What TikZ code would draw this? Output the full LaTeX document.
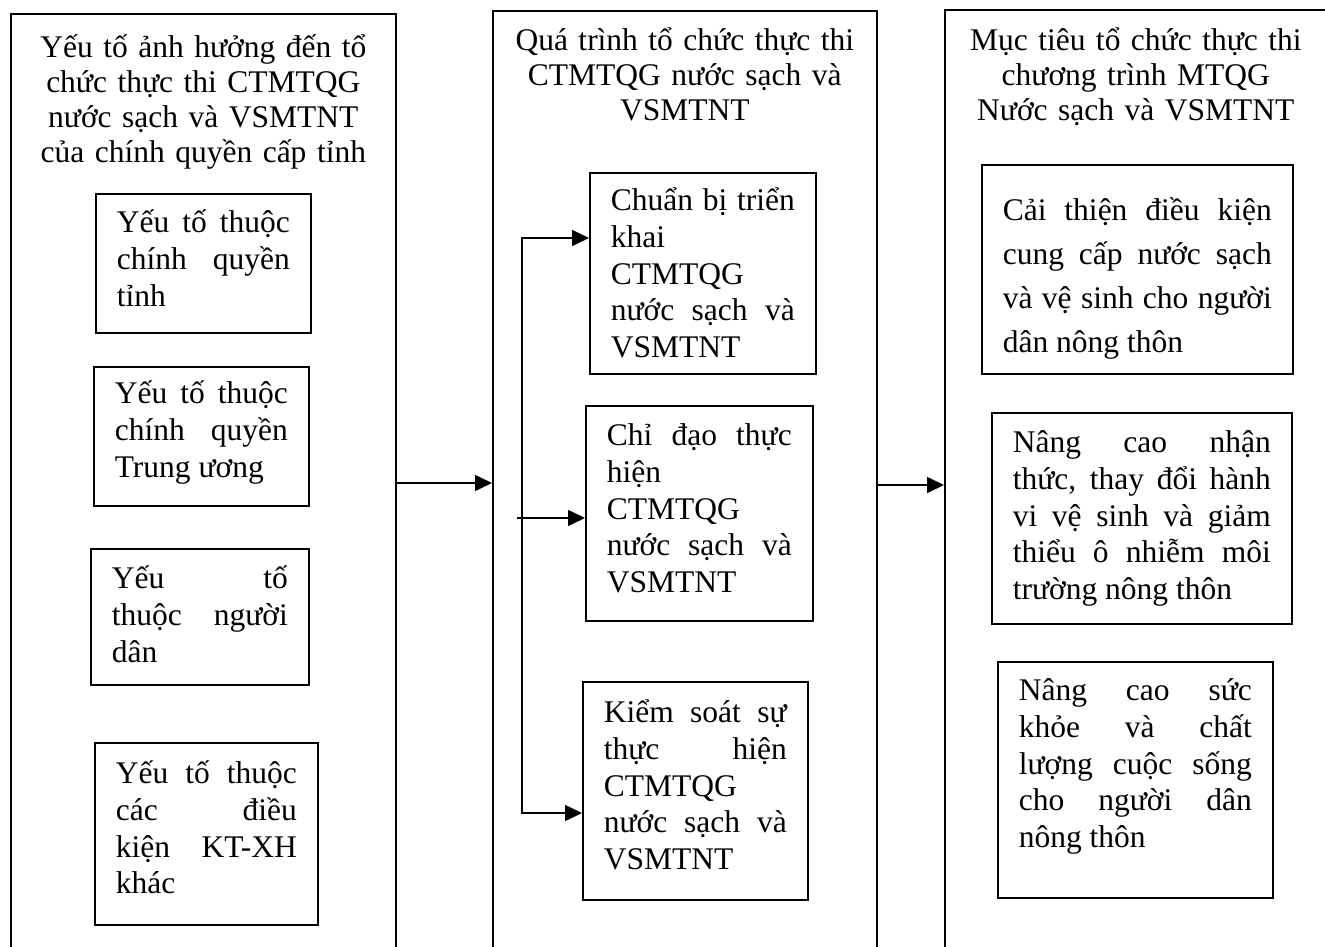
\documentclass[tikz,border=0pt]{standalone}
\usepackage{fontspec}
\setmainfont{Liberation Serif}
\usetikzlibrary{arrows.meta,positioning,calc}
\tolerance=10000
\hyphenpenalty=10000

\begin{document}
\begin{tikzpicture}[
  x=1pt, y=-1pt,
  every node/.style={font=\fontsize{31.5}{36.7}\selectfont},
  col/.style={draw, line width=1.6pt, anchor=north west, align=center, inner xsep=20pt, inner ysep=0pt, text depth=900pt, font=\fontsize{31.5}{35}\selectfont},
  box/.style={draw, line width=1.6pt, anchor=north west, align=justify, inner xsep=21pt, inner ysep=0pt},
  arr/.style={line width=1.6pt, -{Triangle[length=17pt,width=16pt]}}
]
  \useasboundingbox (0,0) rectangle (1325,947);

  % three columns
  \node[col, text width=345pt, text height=44pt] (factors) at (10,13) {Yếu tố ảnh hưởng đến tổ\\ chức thực thi CTMTQG\\ nước sạch và VSMTNT\\ của chính quyền cấp tỉnh};
  \node[col, text width=344pt, text height=40pt] (process) at (492,10) {Quá trình tổ chức thực thi\\ CTMTQG nước sạch và\\ VSMTNT};
  \node[col, text width=342pt, text height=41pt] (goals) at (944,9) {Mục tiêu tổ chức thực thi\\ chương trình MTQG\\ Nước sạch và VSMTNT};

  % factors
  \node[box, text width=173pt, text height=39pt, text depth=100pt] (prov) at (95,193) {Yếu tố thuộc\linebreak chính quyền\linebreak tỉnh};
  \node[box, text width=173pt, text height=37pt, text depth=102pt] (central) at (93,366) {Yếu tố thuộc\linebreak chính quyền\linebreak Trung ương};
  \node[box, text width=176pt, text height=40pt, text depth=96pt] (people) at (90,548) {Yếu tố\linebreak thuộc người\linebreak dân};
  \node[box, text width=181pt, text height=41pt, text depth=141pt] (others) at (94,742) {Yếu tố thuộc\linebreak các điều\linebreak kiện KT-XH\linebreak khác};

  % process steps
  \node[box, text width=184pt, text height=38pt, text depth=163pt] (prep) at (589,172) {Chuẩn bị triển\linebreak khai\\ CTMTQG\\ nước sạch và\linebreak VSMTNT};
  \node[box, text width=185pt, text height=40pt, text depth=175pt] (direct) at (585,405) {Chỉ đạo thực\linebreak hiện\\ CTMTQG\\ nước sạch và\linebreak VSMTNT};
  \node[box, text width=183pt, text height=41pt, text depth=177pt] (control) at (582,681) {Kiểm soát sự\linebreak thực hiện\linebreak CTMTQG\\ nước sạch và\linebreak VSMTNT};

  % goals
  \node[box, text width=269pt, text height=56pt, text depth=153pt, font=\fontsize{31.5}{44}\selectfont] (supply) at (981,164) {Cải thiện điều kiện\linebreak cung cấp nước sạch\linebreak và vệ sinh cho người\linebreak dân nông thôn};
  \node[box, text width=258pt, text height=40pt, text depth=171pt] (aware) at (991,412) {Nâng cao nhận\linebreak thức, thay đổi hành\linebreak vi vệ sinh và giảm\linebreak thiểu ô nhiễm môi\linebreak trường nông thôn};
  \node[box, text width=233pt, text height=39pt, text depth=197pt] (health) at (997,661) {Nâng cao sức\linebreak khỏe và chất\linebreak lượng cuộc sống\linebreak cho người dân\linebreak nông thôn};

  % links between columns
  \coordinate (j1) at (0,483);
  \coordinate (j2) at (0,485);
  \draw[arr] (factors.east |- j1) -- (process.west |- j1);
  \draw[arr] (process.east |- j2) -- (goals.west |- j2);

  % spine feeding the steps
  \coordinate (top) at (522,238);
  \coordinate (bot) at (522,813);
  \coordinate (tap) at (517,518);
  \draw[arr] (bot) -- (top) -- (top -| prep.west);
  \draw[arr] (top) -- (bot) -- (bot -| control.west);
  \draw[arr] (tap) -- (tap -| direct.west);
\end{tikzpicture}
\end{document}
